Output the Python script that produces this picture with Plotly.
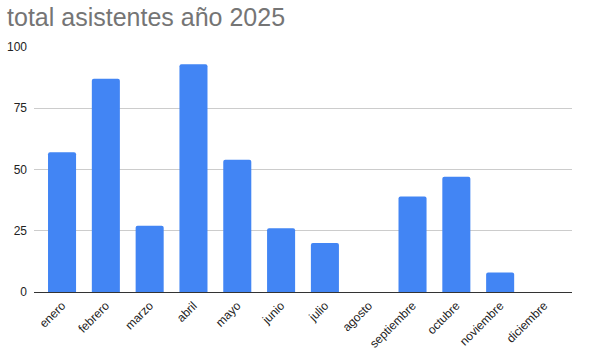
import plotly.graph_objects as go

months = ["enero", "febrero", "marzo", "abril", "mayo", "junio", "julio",
          "agosto", "septiembre", "octubre", "noviembre", "diciembre"]
asistentes = [57, 87, 27, 93, 54, 26, 20, 0, 39, 47, 8, 0]
y_ticks = [0, 25, 50, 75, 100]

fig = go.Figure(go.Bar(
    x=months, y=asistentes,
    marker=dict(color="#4285f4", line=dict(width=0), cornerradius=2),
    hoverinfo="x+y",
))

fig.update_layout(
    width=590, height=352,
    margin=dict(l=34, r=18, t=47, b=60),
    paper_bgcolor="white", plot_bgcolor="white",
    font=dict(family="Liberation Sans, Arial, sans-serif", size=12, color="#222222"),
    title=dict(text="total asistentes año 2025", x=0.012, xanchor="left",
               y=0.95, yanchor="middle",
               font=dict(size=25, color="#757575", family="Liberation Sans, Arial, sans-serif")),
    bargap=0.36,
    showlegend=False,
)
fig.update_xaxes(
    range=[-0.64, 11.64],
    tickangle=-45, showgrid=False, showline=True, linecolor="#333333", linewidth=1,
    ticks="", tickfont=dict(size=12, color="#222222"), automargin=False,
    ticklabelstandoff=1,
)
fig.update_yaxes(
    range=[0, 100], tickvals=y_ticks, showgrid=True, gridcolor="#cccccc", gridwidth=1,
    zeroline=False, showline=False, ticks="", tickfont=dict(size=12, color="#222222"),
    ticklabelstandoff=6, automargin=False,
)

fig.write_html("out.html")
